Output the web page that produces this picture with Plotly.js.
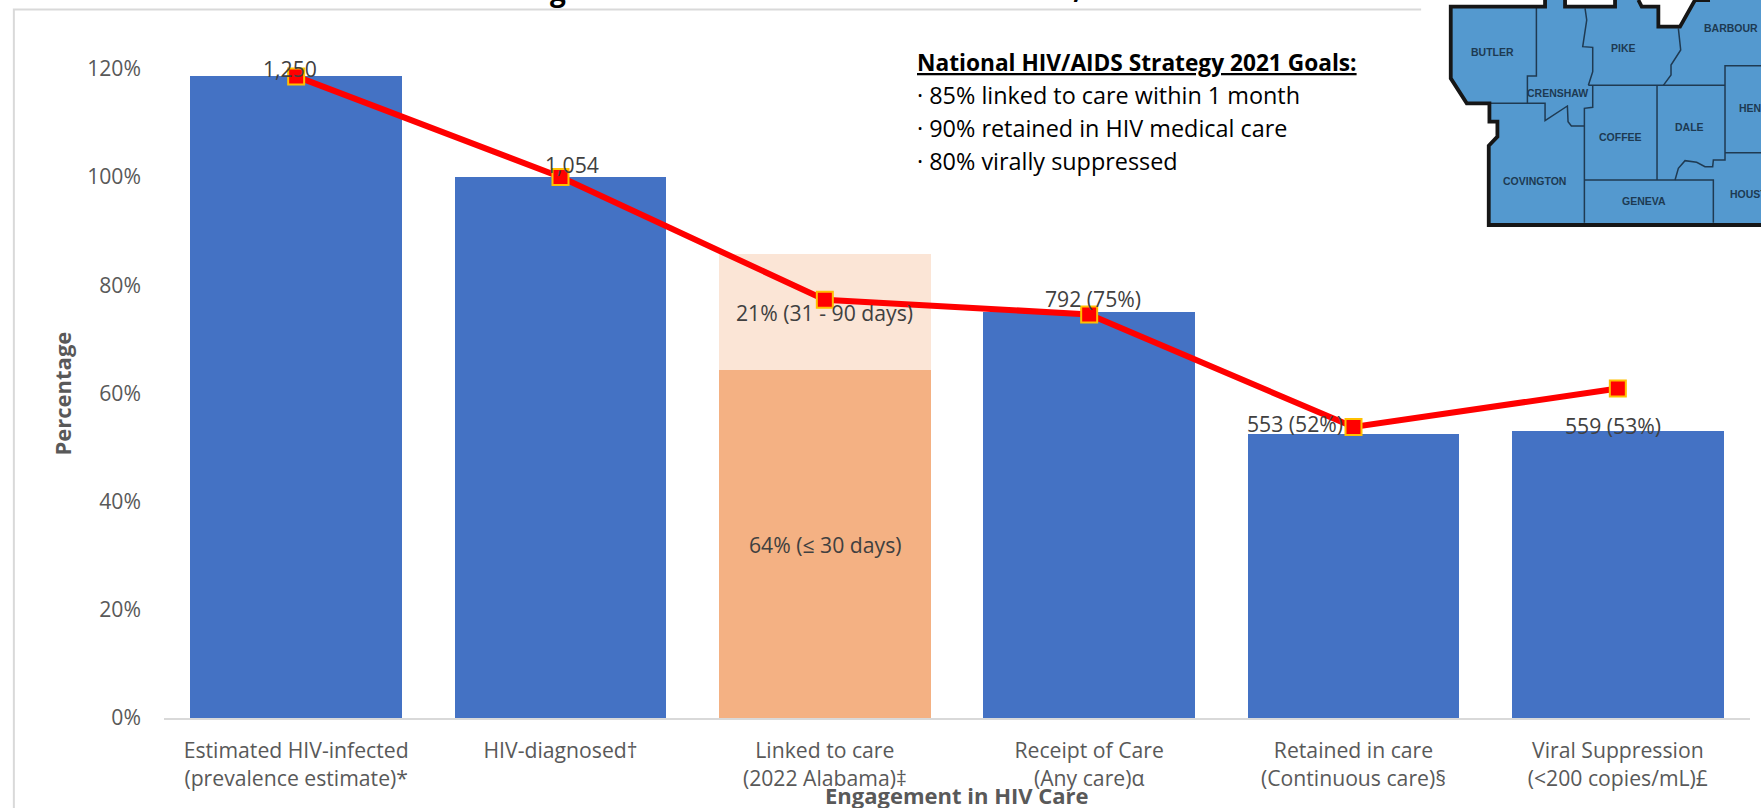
<!DOCTYPE html>
<html><head><meta charset="utf-8">
<script src="https://cdn.plot.ly/plotly-3.0.1.min.js"></script>
<style>html,body{margin:0;padding:0;background:#fff;overflow:hidden}#c{width:1761px;height:808px}</style></head>
<body><div id="c"></div>
<script>
const categories=["Estimated HIV-infected<br>(prevalence estimate)*","HIV-diagnosed†","Linked to care<br>(2022 Alabama)‡","Receipt of Care<br>(Any care)α","Retained in care<br>(Continuous care)§","Viral Suppression<br>(<200 copies/mL)£"];
const tickIdx=[0,1,2,3,4,5];
const blueValues=[118.6,100,null,75.1,52.5,53.0];
const linked30=[null,null,64.4,null,null,null];
const linked90=[null,null,21.4,null,null,null];
const lineValues=[118.6,100,77.3,74.6,53.8,60.9];
const blueLabels=["1,250","1,054","","792 (75%)","553 (52%)","559 (53%)"];
const yTicks=[0,20,40,60,80,100,120];
const yTickLabels=["0%","20%","40%","60%","80%","100%","120%"];
const goalsHeading="National HIV/AIDS Strategy 2021 Goals:";
const goals=["· 85% linked to care within 1 month","· 90% retained in HIV medical care","· 80% virally suppressed"];
const counties=["BUTLER","PIKE","BARBOUR","CRENSHAW","COFFEE","DALE","COVINGTON","GENEVA"];

const font="'Open Sans', sans-serif";
const L=163.5,R=1750,T=10,B=718;
const fx=p=>(p-L)/(R-L), fy=p=>(B-p)/(B-T);
const pathPx=(pts,close)=>pts.map((p,i)=>(i?'L':'M')+fx(p[0]).toFixed(5)+' '+fy(p[1]).toFixed(5)).join(' ')+(close?' Z':'');
const mapPt=p=>[1410+p[0]/3,p[1]/3];
const mapPath=(pts,close)=>pathPx(pts.map(mapPt),close);
const shape=(path,color,width,fill)=>({type:'path',xref:'paper',yref:'paper',path,layer:'above',line:{color:color,width:width},fillcolor:fill||'rgba(0,0,0,0)'});

const mapFill=[[122,20],[405,20],[405,0],[465,0],[465,20],[615,20],[615,0],[685,0],[695,20],[745,20],[745,80],[810,80],[855,0],[1053,0],[1053,675],[236,675],[236,437],[262,410],[262,365],[238,365],[238,310],[170,310],[122,235]];
const mapOutline=[
 [[405,0],[405,20],[122,20],[122,235],[170,310],[238,310],[238,365],[262,365],[262,410],[236,437],[236,675],[1053,675]],
 [[465,0],[465,20],[615,20],[615,0]],
 [[685,0],[695,20],[745,20],[745,80],[810,80],[855,0],[900,0]]
];
const mapLines=[
 [[379,20],[379,228],[352,228],[352,310]],
 [[238,310],[405,310],[405,362],[472,318],[474,365],[484,378],[523,378]],
 [[525,25],[530,60],[518,140],[548,142],[548,215],[535,256]],
 [[535,256],[945,256]],
 [[548,256],[548,322],[523,325],[523,668]],
 [[741,256],[741,540]],
 [[805,85],[812,150],[783,195],[783,225],[760,256]],
 [[1053,197],[945,197],[945,480],[910,480],[908,500],[885,500],[860,487],[825,482],[805,505],[795,540]],
 [[945,458],[1053,458]],
 [[523,540],[910,540],[910,668]]
];
const shapes=[
 shape(pathPx([[13.3,808],[13.3,9.5],[1421,9.5]]),'#D9D9D9',2),
 shape(mapPath(mapFill,true),'rgba(0,0,0,0)',0,'#5499CF'),
 ...mapLines.map(l=>shape(mapPath(l),'#1F3A52',1.5)),
 ...mapOutline.map(l=>shape(mapPath(l),'#161616',3.8))
];

const lab=(i,y,text,xs,ys)=>({xref:'x',yref:'y',x:i,y:y,text:text,showarrow:false,xshift:xs,yshift:ys,font:{family:font,size:21.2,color:'#404040'}});
const pxNote=(x,y,text,size,anchor,extra)=>Object.assign({xref:'paper',yref:'paper',x:fx(x),y:fy(y),text:text,showarrow:false,xanchor:anchor||'left',yanchor:'middle',font:{family:font,size:size,color:'#000'}},extra||{});
const countyPos=[[247,155],[640,143],[962,85],[442,278],[631,411],[838,380],[374,543],[702,604]];
const countyFont={family:"'Liberation Sans', sans-serif",size:10.5,color:'#1D3A52'};
const annotations=[
 lab(0,blueValues[0],blueLabels[0],-6,8),
 lab(1,blueValues[1],blueLabels[1],11,13),
 lab(3,blueValues[3],blueLabels[3],4,13.7),
 lab(4,blueValues[4],blueLabels[4],-59,10),
 lab(5,blueValues[5],blueLabels[5],-5,5.6),
 lab(2,linked30[2]/2,"64% (≤ 30 days)",1,-1),
 lab(2,linked30[2]+linked90[2]/2,"21% (31 - 90 days)",0,-1),
 pxNote(915,63,'<b><u>'+goalsHeading+'</u></b>',22.7),
 pxNote(915,95,goals[0],23.4),
 pxNote(915,128,goals[1],23.4),
 pxNote(915,161,goals[2],23.4),
 pxNote(957,795,'<b>Engagement in HIV Care</b>',22,'center',{font:{family:font,size:22,color:'#595959'}}),
 pxNote(61,394,'<b>Percentage</b>',22,'center',{textangle:-90,font:{family:font,size:22,color:'#595959'}}),
 pxNote(558,-10,'<b>g</b>',28,'center'),
 pxNote(1077,-13,'<b>,</b>',28,'center'),
 ...counties.map((c,i)=>{const p=mapPt(countyPos[i]);return pxNote(p[0],p[1],'<b>'+c+'</b>',10.5,'center',{font:countyFont});}),
 pxNote(1410+982/3,325/3,'<b>HENRY</b>',10.5,'left',{font:countyFont}),
 pxNote(1410+953/3,583/3,'<b>HOUSTON</b>',10.5,'left',{font:countyFont})
];
const traces=[
 {type:'bar',x:tickIdx,y:blueValues,marker:{color:'#4472C4'},width:0.8,hoverinfo:'skip'},
 {type:'bar',x:tickIdx,y:linked30,marker:{color:'#F4B183'},width:0.8,hoverinfo:'skip'},
 {type:'bar',x:tickIdx,y:linked90,marker:{color:'#FBE5D6'},width:0.8,hoverinfo:'skip'},
 {type:'scatter',mode:'lines+markers',x:tickIdx,y:lineValues,line:{color:'#FF0000',width:6},marker:{symbol:'square',size:16,color:'#FF0000',line:{color:'#FFC000',width:2}},hoverinfo:'skip'}
];
const layout={width:1761,height:808,barmode:'stack',showlegend:false,paper_bgcolor:'#fff',plot_bgcolor:'#fff',
 margin:{l:L,r:1761-R,t:T,b:808-B},
 xaxis:{range:[-0.5,5.5],tickmode:'array',tickvals:tickIdx,ticktext:categories,showgrid:false,zeroline:false,showline:true,linecolor:'#D9D9D9',linewidth:2,ticks:'',tickfont:{family:font,size:21.2,color:'#595959'},ticklabelstandoff:13},
 yaxis:{range:[0,130.87],tickmode:'array',tickvals:yTicks,ticktext:yTickLabels,showgrid:false,zeroline:false,showline:false,ticks:'',tickfont:{family:font,size:21.2,color:'#595959'},ticklabelstandoff:22},
 shapes:shapes,annotations:annotations
};
Plotly.newPlot('c',traces,layout,{displayModeBar:false,responsive:false});
</script></body></html>
